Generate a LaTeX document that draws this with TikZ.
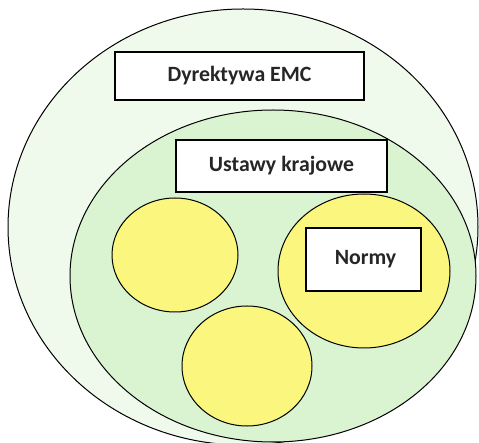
\documentclass[tikz,border=0pt]{standalone}
\usepackage{fontspec}
\setmainfont{Carlito}
\definecolor{outerg}{HTML}{F0FAEC}
\definecolor{innerg}{HTML}{DAF4D2}
\definecolor{yel}{HTML}{FAF67E}
\begin{document}
\begin{tikzpicture}[x=1pt,y=-1pt,
  ring/.style={draw=black,line width=1pt},
  label/.style={draw=black,line width=1.4pt,fill=white,font=\bfseries\fontsize{21.8}{26}\selectfont,text=black!85,inner sep=0pt}]
\useasboundingbox (0,0) rectangle (479,443);
\fill[white] (0,0) rectangle (479,443);
\draw[ring,fill=outerg] (243,227) ellipse [x radius=235, y radius=218];
\node[label,minimum width=249pt,minimum height=48pt] (dir) at (239.5,76) {Dyrektywa EMC};
\draw[ring,fill=innerg] (273,276) ellipse [x radius=203, y radius=166];
\node[label,minimum width=211pt,minimum height=52pt] (ust) at (281.5,166) {Ustawy krajowe};
\draw[ring,fill=yel] (175,255) ellipse [x radius=63, y radius=57];
\draw[ring,fill=yel] (364,271) ellipse [x radius=86, y radius=77];
\draw[ring,fill=yel] (247,366) ellipse [x radius=65, y radius=60];
\node[label,minimum width=115pt,minimum height=63pt] (nor) at (363.5,259.5) {\hspace*{4pt}Normy};
\end{tikzpicture}
\end{document}
